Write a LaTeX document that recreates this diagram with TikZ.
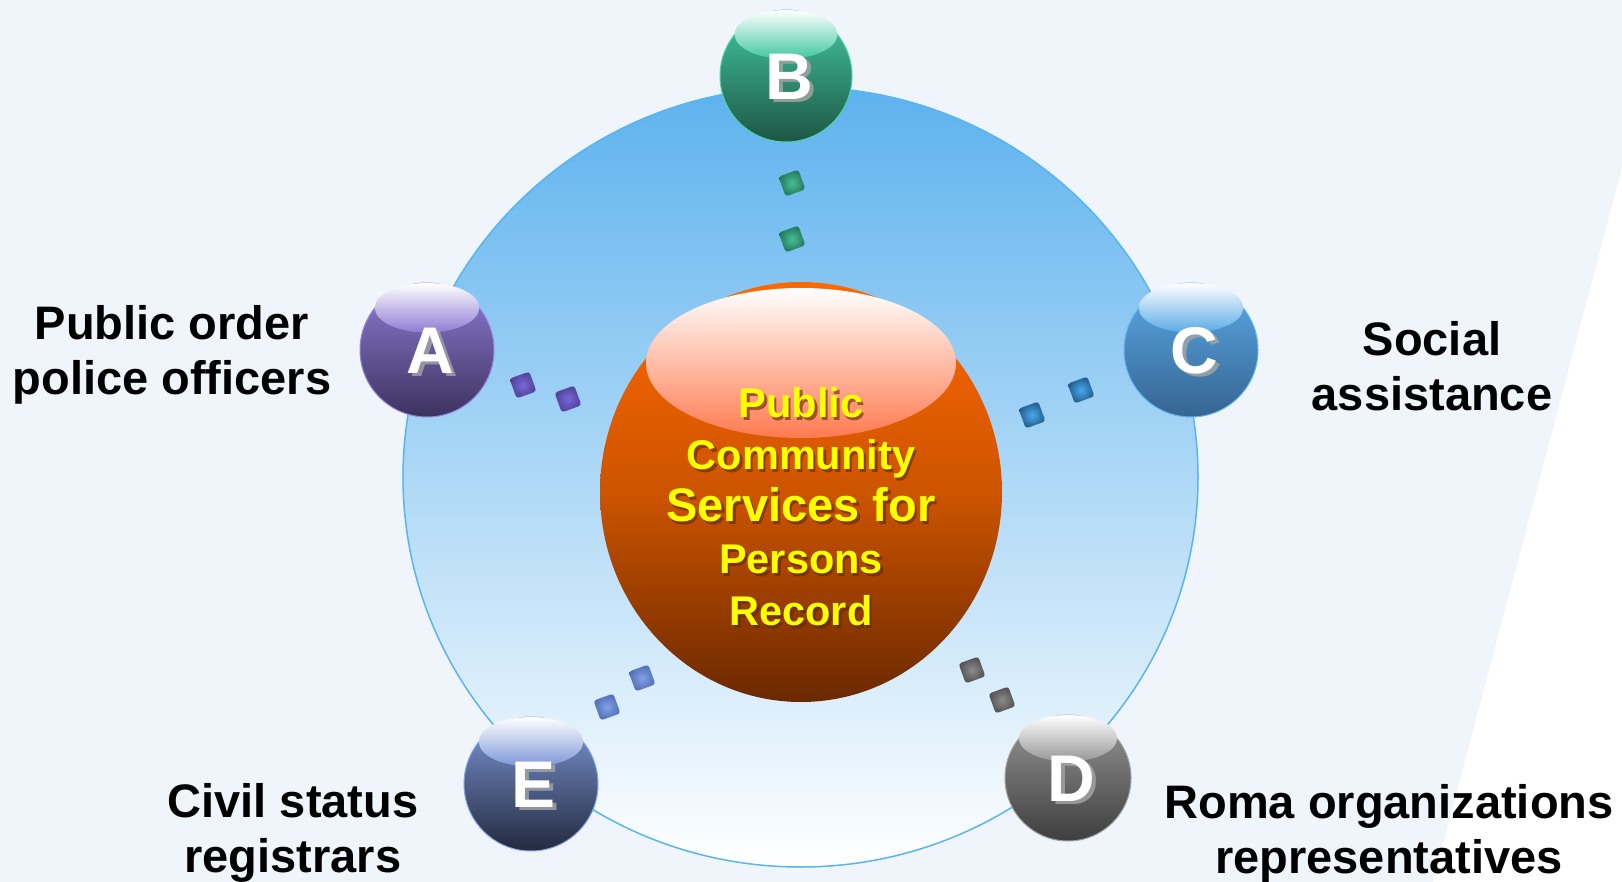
\documentclass[tikz,border=0pt]{standalone}
\usepackage{fontspec}
\setmainfont{Liberation Sans}
\usetikzlibrary{calc,shapes.geometric}
\definecolor{bg}{RGB}{240,245,252}
\definecolor{ringtop}{RGB}{93,178,238}
\definecolor{ringline}{RGB}{90,180,240}
\definecolor{hubtop}{RGB}{255,104,0}
\definecolor{hubmid}{RGB}{205,84,0}
\definecolor{hubbot}{RGB}{106,40,0}
\definecolor{hubhl}{RGB}{255,122,80}
\definecolor{hubtext}{RGB}{255,255,0}
\definecolor{hubshadow}{RGB}{90,40,0}
\definecolor{aL}{RGB}{142,124,212}\definecolor{aD}{RGB}{60,50,94}\definecolor{aB}{RGB}{150,132,222}
\definecolor{bL}{RGB}{66,200,160}\definecolor{bD}{RGB}{30,86,68}\definecolor{bB}{RGB}{80,210,172}
\definecolor{cL}{RGB}{90,170,230}\definecolor{cD}{RGB}{54,100,145}\definecolor{cB}{RGB}{100,182,240}
\definecolor{dL}{RGB}{150,150,150}\definecolor{dD}{RGB}{62,62,62}\definecolor{dB}{RGB}{160,160,160}
\definecolor{eL}{RGB}{125,150,215}\definecolor{eD}{RGB}{35,42,62}\definecolor{eB}{RGB}{130,162,232}
\definecolor{aSq}{RGB}{80,64,150}\definecolor{aSqi}{RGB}{120,104,215}
\definecolor{bSq}{RGB}{34,120,92}\definecolor{bSqi}{RGB}{70,190,150}
\definecolor{cSq}{RGB}{36,90,140}\definecolor{cSqi}{RGB}{70,170,235}
\definecolor{dSq}{RGB}{80,80,80}\definecolor{dSqi}{RGB}{140,140,140}
\definecolor{eSq}{RGB}{80,110,180}\definecolor{eSqi}{RGB}{130,160,230}
\newcommand{\labfont}{\fontsize{47}{55}\selectfont\bfseries}
\newcommand{\letfont}{\fontsize{66}{70}\selectfont\bfseries}
\newcommand{\hubfont}{\fontsize{41.5}{52}\selectfont\bfseries}
\newcommand{\glossball}[8]{%
  \node[ballnode, minimum size=#4, top color=#5, bottom color=#6, draw=#7] (#1) at (#2,#3) {};
  \shade[top color=white, bottom color=#5] ($(#1)+(0,-0.63*#4/2)$) ellipse [x radius=0.39*#4 pt, y radius=0.185*#4 pt];
  \node[font=\letfont, text=black!35, opacity=0.8] at ($(#1)+(7,4)$) {#8};
  \node[font=\letfont, text=white] (#1let) at ($(#1)+(3,1)$) {#8};
}
\tikzset{
  ballnode/.style={circle, inner sep=0pt, line width=1pt},
  sqnode/.style={rectangle, minimum size=21pt, inner sep=0pt, rounded corners=3pt, rotate=20},
  labnode/.style={font=\labfont, align=center, text=black, inner sep=0pt},
}
\begin{document}
\begin{tikzpicture}[x=1pt,y=-1pt]
\useasboundingbox (0,0) rectangle (1622,882);
\fill[bg] (0,0) rectangle (1622,882);
\fill[white] (1622,168) -- (1433,882) -- (1622,882) -- cycle;
% big ring
\shade[top color=ringtop, bottom color=white, draw=ringline, line width=1.5pt] (800.5,477) ellipse [x radius=397.5pt, y radius=390pt];
% hub
\node[ellipse, minimum width=402pt, minimum height=420pt, inner sep=0pt, top color=hubtop, bottom color=hubbot, middle color=hubmid] (hub) at (801,492) {};
\shade[top color=white, bottom color=hubhl] (801,363) ellipse [x radius=155pt, y radius=75pt];
\node[font=\hubfont, align=center, text=hubshadow, opacity=0.6] at (803.5,509.5) {Public\\Community\\{\fontsize{47}{55}\selectfont Services for}\\Persons\\Record};
\node[font=\hubfont, align=center, text=hubtext] (hubtxt) at (801,507) {Public\\Community\\{\fontsize{47}{55}\selectfont Services for}\\Persons\\Record};
% connector squares
\node[sqnode, inner color=aSqi, outer color=aSq] (a1) at (568,399) {};
\node[sqnode, inner color=aSqi, outer color=aSq] (a2) at (523,385) {};
\node[sqnode, inner color=bSqi, outer color=bSq] (b1) at (792,239) {};
\node[sqnode, inner color=bSqi, outer color=bSq] (b2) at (792,183) {};
\node[sqnode, inner color=cSqi, outer color=cSq] (c1) at (1032,415) {};
\node[sqnode, inner color=cSqi, outer color=cSq] (c2) at (1081,390) {};
\node[sqnode, inner color=dSqi, outer color=dSq] (d1) at (972,670) {};
\node[sqnode, inner color=dSqi, outer color=dSq] (d2) at (1002,700) {};
\node[sqnode, inner color=eSqi, outer color=eSq] (e1) at (642,678) {};
\node[sqnode, inner color=eSqi, outer color=eSq] (e2) at (607,707) {};
% balls
\glossball{A}{427}{350}{134}{aL}{aD}{aB}{A}
\glossball{B}{786}{76}{132}{bL}{bD}{bB}{B}
\glossball{C}{1191}{350}{134}{cL}{cD}{cB}{C}
\glossball{D}{1068}{778}{126}{dL}{dD}{dB}{D}
\glossball{E}{531}{784}{134}{eL}{eD}{eB}{E}
% labels
\node[labnode] (la) at (172,355) {Public order\\police officers};
\node[labnode] (lc) at (1432,366) {Social\\assistance};
\node[labnode] (le) at (293,833) {Civil status\\registrars};
\node[labnode] (ld) at (1389,834) {Roma organizations\\representatives};
\end{tikzpicture}
\end{document}
